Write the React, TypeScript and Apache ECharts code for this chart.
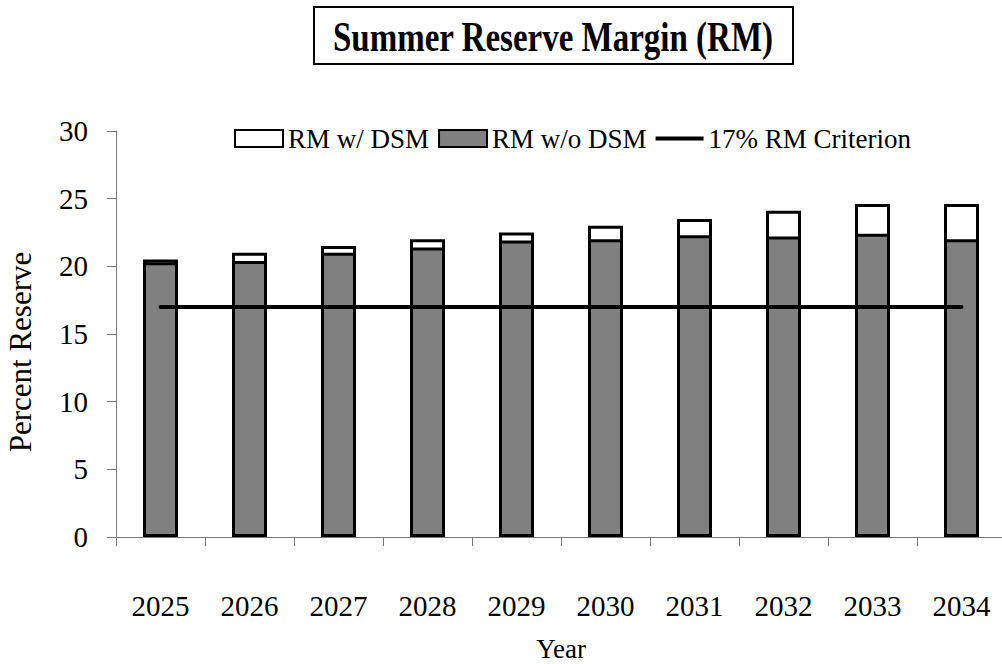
import React, { useEffect, useRef } from "react";
import * as echarts from "echarts";

const years = ["2025", "2026", "2027", "2028", "2029", "2030", "2031", "2032", "2033", "2034"];
const rmWithDsm = [20.5, 21.0, 21.5, 22.0, 22.5, 23.0, 23.5, 24.1, 24.6, 24.6];
const rmWithoutDsm = [20.3, 20.4, 21.0, 21.4, 21.9, 22.0, 22.3, 22.2, 22.4, 22.0];
const criterion = [17, 17, 17, 17, 17, 17, 17, 17, 17, 17];
const yTicks = { min: 0, max: 30, interval: 5 };

const FONT = "Liberation Serif";

export default function App() {
  const ref = useRef<HTMLDivElement>(null);
  useEffect(() => {
    if (!ref.current) return;
    const chart = echarts.init(ref.current, null, { renderer: "svg" });
    chart.setOption({
      animation: false,
      backgroundColor: "#ffffff",
      textStyle: { fontFamily: FONT, color: "#000" },
      graphic: [
        {
          type: "rect",
          shape: { x: 314, y: 7, width: 479, height: 57 },
          style: { fill: "#ffffff", stroke: "#000000", lineWidth: 2 },
        },
        {
          type: "text",
          x: 553,
          y: 37,
          scaleY: 1.25,
          style: {
            text: "Summer Reserve Margin (RM)",
            fontFamily: FONT,
            fontWeight: "bold",
            fontSize: 33,
            fill: "#000",
            textAlign: "center",
            textVerticalAlign: "middle",
          },
        },
      ],
      legend: {
        left: 229,
        top: 120,
        itemWidth: 48,
        itemHeight: 17,
        itemGap: 9,
        textStyle: { fontFamily: FONT, fontSize: 27, color: "#000" },
        data: [
          { name: "RM w/ DSM", icon: "rect" },
          { name: "RM w/o DSM", icon: "rect" },
          {
            name: "17% RM Criterion",
            icon: "path://M0,0 L48,0 L48,4 L0,4 Z",
            itemStyle: { color: "#000000" },
          },
        ],
      },
      grid: { left: 116, top: 131, height: 406, width: 890, outerBoundsMode: "none", containLabel: false },
      xAxis: {
        type: "category",
        data: years,
        boundaryGap: true,
        name: "Year",
        nameLocation: "middle",
        nameGap: 98,
        nameTextStyle: { fontFamily: FONT, fontSize: 27, color: "#000" },
        axisLine: { show: true, lineStyle: { color: "#777", width: 1 } },
        axisTick: { show: true, length: 9, alignWithLabel: false, lineStyle: { color: "#777" } },
        axisLabel: { fontFamily: FONT, fontSize: 29, color: "#000", margin: 54 },
        splitLine: { show: false },
      },
      yAxis: {
        type: "value",
        min: yTicks.min,
        max: yTicks.max,
        interval: yTicks.interval,
        name: "Percent Reserve",
        nameLocation: "middle",
        nameGap: 80,
        nameTextStyle: { fontFamily: FONT, fontSize: 31, color: "#000", padding: [0, 36, 0, 0] },
        axisLine: { show: true, lineStyle: { color: "#777", width: 1 } },
        axisTick: { show: true, length: 9, lineStyle: { color: "#777" } },
        axisLabel: { fontFamily: FONT, fontSize: 29, color: "#000", margin: 28 },
        splitLine: { show: false },
      },
      series: [
        {
          name: "RM w/ DSM",
          type: "bar",
          data: rmWithDsm,
          barWidth: 35,
          itemStyle: { color: "#ffffff", borderColor: "#000000", borderWidth: 3 },
        },
        {
          name: "RM w/o DSM",
          type: "bar",
          data: rmWithoutDsm,
          barWidth: 35,
          barGap: "-100%",
          itemStyle: { color: "#808080", borderColor: "#000000", borderWidth: 3 },
        },
        {
          name: "17% RM Criterion",
          type: "line",
          data: criterion,
          symbol: "none",
          showSymbol: false,
          z: 5,
          itemStyle: { color: "#000000" },
          lineStyle: { color: "#000000", width: 4, cap: "round" },
        },
      ],
    });
    return () => chart.dispose();
  }, []);
  return (
    <div
      ref={ref}
      style={{ position: "fixed", left: 0, top: 0, width: 1002, height: 664, background: "#fff" }}
    />
  );
}
